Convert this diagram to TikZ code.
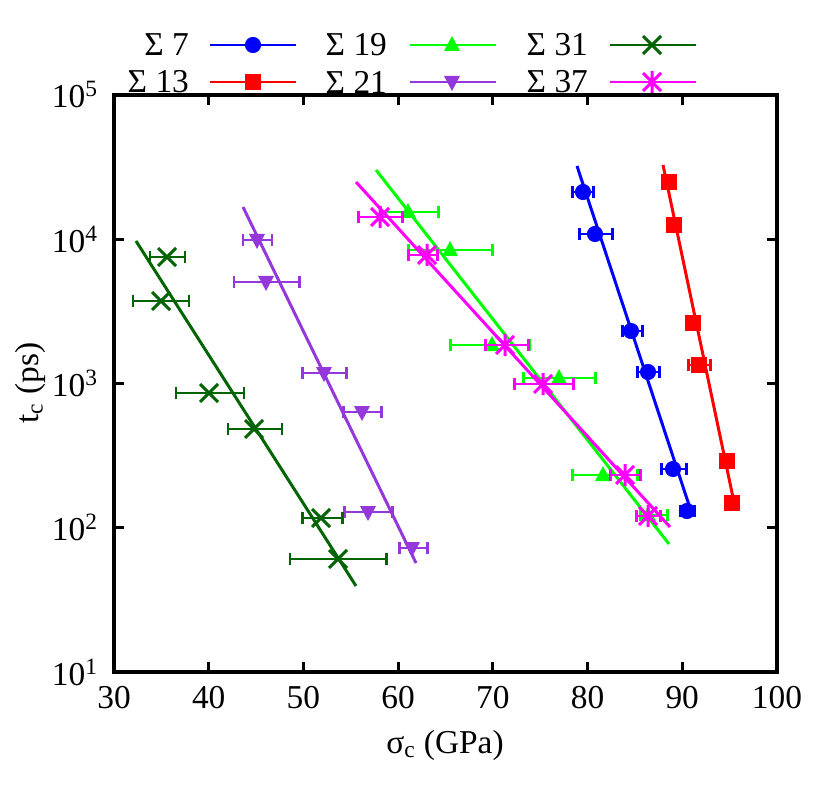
\documentclass[tikz,border=0pt]{standalone}
\usepackage{fontspec}
\setmainfont{Liberation Serif}
\usetikzlibrary{positioning}
\definecolor{cBlue}{RGB}{0,0,255}
\definecolor{cRed}{RGB}{255,0,0}
\definecolor{cGreen}{RGB}{0,255,0}
\definecolor{cPurple}{RGB}{148,56,220}
\definecolor{cDark}{RGB}{0,100,0}
\definecolor{cMag}{RGB}{255,0,255}

% error bar: y, left, right
\newcommand\ebar[3]{\draw[errbar] (#2,#1) -- (#3,#1) (#2,#1-6) -- (#2,#1+6) (#3,#1-6) -- (#3,#1+6);}
% markers
\newcommand\mkcirc[2]{\fill (#1,#2) circle[radius=4.6pt];}
\newcommand\mksq[2]{\fill (#1-8,#2-8) rectangle (#1+8,#2+8);}
\newcommand\mkup[2]{\fill (#1,#2-9) -- (#1-8,#2+6) -- (#1+8,#2+6) -- cycle;}
\newcommand\mkdown[2]{\fill (#1,#2+9) -- (#1-8,#2-6) -- (#1+8,#2-6) -- cycle;}
\newcommand\mkx[2]{\draw[errbar] (#1-9,#2-9) -- (#1+9,#2+9) (#1-9,#2+9) -- (#1+9,#2-9);}
\newcommand\mkstar[2]{\draw[errbar] (#1-9,#2-9) -- (#1+9,#2+9) (#1-9,#2+9) -- (#1+9,#2-9) (#1,#2-11) -- (#1,#2+11);}

\begin{document}
\begin{tikzpicture}[x=0.02cm,y=-0.02cm,
		fitline/.style = {line width=1.7pt},
		errbar/.style  = {line width=1.7pt},
		frame/.style   = {line width=1.8pt},
		lbl/.style     = {font=\fontsize{19}{22}\selectfont, inner sep=1pt}]

	\useasboundingbox (0,0) rectangle (830,803);

	% axes box and ticks
	\draw[frame] (114,95) rectangle (777,672);
	\foreach \v in {30,40,...,100}{
		\pgfmathsetmacro{\xx}{114+(\v-30)*9.47}
		\draw[frame] (\xx,672) -- (\xx,662) (\xx,95) -- (\xx,105);
		\node[lbl, below] (xt\v) at (\xx,684) {\v};
	}
	\foreach \n in {1,...,5}{
		\pgfmathsetmacro{\yy}{672-(\n-1)*144.25}
		\draw[frame] (114,\yy) -- (124,\yy) (777,\yy) -- (767,\yy);
		\node[lbl, left] (yt\n) at (100,\yy) {10\textsuperscript{\n}};
	}
	\node[lbl] (xlab) at (445,745) {σ\textsubscript{c} (GPa)};
	\node[lbl, rotate=90] (ylab) at (30,383) {t\textsubscript{c} (ps)};

	% Sigma 7
	\begin{scope}[color=cBlue]
		\draw[fitline] (577,166) -- (690,508);
		\foreach \x/\y/\l/\r in {583/192/572/593,595/234/579/612,631/331/622/642,648/372/637/659,673/469/661/686,687/511/680/694}
		{\ebar{\y}{\l}{\r}\mkcirc{\x}{\y}}
	\end{scope}
	% Sigma 13
	\begin{scope}[color=cRed]
		\draw[fitline] (663,165) -- (735,507);
		\foreach \x/\y/\l/\r in {669/182/665/673,674/225/670/678,693/323/689/697,699/365/688/710,727/461/722/732,732/503/728/736}
		{\ebar{\y}{\l}{\r}\mksq{\x}{\y}}
	\end{scope}
	% Sigma 19
	\begin{scope}[color=cGreen]
		\draw[fitline] (376,170) -- (669,544);
		\foreach \x/\y/\l/\r in {408/212/380/438,450/250/408/492,492/345/450/529,559/378/523/595,603/475/572/637,648/515/640/667}
		{\ebar{\y}{\l}{\r}\mkup{\x}{\y}}
	\end{scope}
	% Sigma 21
	\begin{scope}[color=cPurple]
		\draw[fitline] (243,207) -- (416,563);
		\foreach \x/\y/\l/\r in {257/240/243/272,266/282/234/299,324/373/302/346,362/412/343/381,368/512/344/392,412/548/399/427}
		{\ebar{\y}{\l}{\r}\mkdown{\x}{\y}}
	\end{scope}
	% Sigma 31
	\begin{scope}[color=cDark]
		\draw[fitline] (136,241) -- (356,586);
		\foreach \x/\y/\l/\r in {167/257/150/185,161/301/133/189,209/393/176/244,254/429/228/282,321/518/302/342,338/559/290/386}
		{\ebar{\y}{\l}{\r}\mkx{\x}{\y}}
	\end{scope}
	% Sigma 37
	\begin{scope}[color=cMag]
		\draw[fitline] (356,182) -- (670,527);
		\foreach \x/\y/\l/\r in {380/217/358/402,427/255/408/437,505/345/485/528,543/384/514/573,625/475/610/640,648/516/636/660}
		{\ebar{\y}{\l}{\r}\mkstar{\x}{\y}}
	\end{scope}

	% legend
	\node[lbl, anchor=east] (k7)  at (191,45) {Σ 7};
	\node[lbl, anchor=east] (k13) at (191,82) {Σ 13};
	\node[lbl, anchor=east] (k19) at (389,45) {Σ 19};
	\node[lbl, anchor=east] (k21) at (389,82) {Σ 21};
	\node[lbl, anchor=east] (k31) at (590,45) {Σ 31};
	\node[lbl, anchor=east] (k37) at (590,82) {Σ 37};
	\begin{scope}[color=cBlue]\draw[fitline] (210,45) -- (296,45); \mkcirc{253}{45}\end{scope}
	\begin{scope}[color=cRed]\draw[fitline] (210,82) -- (296,82); \mksq{253}{82}\end{scope}
	\begin{scope}[color=cGreen]\draw[fitline] (410,45) -- (496,45); \mkup{452}{45}\end{scope}
	\begin{scope}[color=cPurple]\draw[fitline] (410,82) -- (496,82); \mkdown{452}{82}\end{scope}
	\begin{scope}[color=cDark]\draw[fitline] (610,45) -- (696,45); \mkx{652}{45}\end{scope}
	\begin{scope}[color=cMag]\draw[fitline] (610,82) -- (696,82); \mkstar{652}{82}\end{scope}
\end{tikzpicture}
\end{document}
